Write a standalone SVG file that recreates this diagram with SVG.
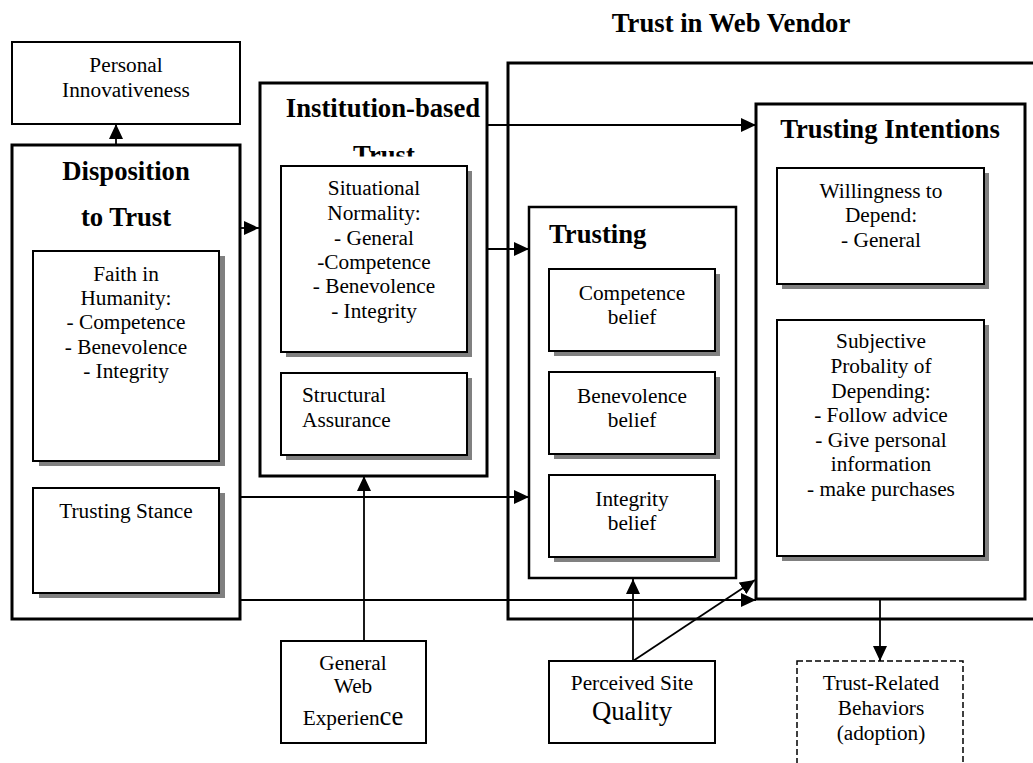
<svg xmlns="http://www.w3.org/2000/svg" width="1033" height="763" viewBox="0 0 1033 763" font-family="'Liberation Serif', 'DejaVu Serif', serif">
  <style>
    text { font-family: 'Liberation Serif', 'DejaVu Serif', serif; fill: #000; }
    .t { font-size: 21.3px; text-anchor: middle; }
    .tl { font-size: 21.3px; }
    .h { font-size: 26.7px; font-weight: bold; text-anchor: middle; }
    .hl { font-size: 26.7px; font-weight: bold; }
    .big { font-size: 26.7px; }
    .box { fill: #fff; stroke: #000; stroke-width: 2; }
    .thick { fill: #fff; stroke: #000; stroke-width: 3; }
    .mid { fill: #fff; stroke: #000; stroke-width: 2.5; }
    .shadow { fill: #808080; }
    .dash { fill: #fff; stroke: #000; stroke-width: 1.5; stroke-dasharray: 6 3; }
    .conn { fill: none; stroke: #000; stroke-width: 1.8; marker-end: url(#arrow); }
  </style>
  <defs>
    <marker id="arrow" markerUnits="userSpaceOnUse" markerWidth="15" markerHeight="14" refX="15" refY="7" orient="auto">
      <path d="M0,0 L15,7 L0,14 z" fill="#000"/>
    </marker>
    <clipPath id="clipTrust">
      <rect x="260" y="83" width="228" height="73.5"/>
    </clipPath>
  </defs>

  <rect width="1033" height="763" fill="#fff"/>

  <!-- Title of the vendor-trust container -->
  <text class="h" x="731" y="32">Trust in Web Vendor</text>

  <!-- Trust in Web Vendor container -->
  <g id="web-vendor">
    <rect class="thick" x="508" y="63" width="540" height="556"/>
  </g>

  <!-- Personal Innovativeness -->
  <g id="personal-innovativeness">
    <rect class="box" x="12" y="42" width="228" height="82"/>
    <text class="t" x="126" y="72">Personal</text>
    <text class="t" x="126" y="97">Innovativeness</text>
  </g>

  <!-- Disposition to Trust -->
  <g id="disposition">
    <rect class="thick" x="12" y="145" width="228" height="474"/>
    <text class="h" x="126" y="180">Disposition</text>
    <text class="h" x="126" y="226">to Trust</text>
  </g>
  <g id="faith-in-humanity">
    <rect class="shadow" x="39" y="256" width="186" height="210"/>
    <rect class="box" x="33" y="251" width="186" height="210"/>
    <text class="t" x="126" y="281">Faith in</text>
    <text class="t" x="126" y="305">Humanity:</text>
    <text class="t" x="126" y="329">- Competence</text>
    <text class="t" x="126" y="354">- Benevolence</text>
    <text class="t" x="126" y="378">- Integrity</text>
  </g>
  <g id="trusting-stance">
    <rect class="shadow" x="39" y="493" width="186" height="105"/>
    <rect class="box" x="33" y="488" width="186" height="105"/>
    <text class="t" x="126" y="518">Trusting Stance</text>
  </g>

  <!-- Institution-based Trust -->
  <g id="institution">
    <rect class="thick" x="260" y="83" width="227" height="393"/>
    <text class="h" x="383" y="117">Institution-based</text>
    <text class="h" x="384" y="164" clip-path="url(#clipTrust)">Trust</text>
  </g>
  <g id="situational-normality">
    <rect class="shadow" x="286" y="171" width="186" height="186"/>
    <rect class="box" x="281" y="166" width="186" height="186"/>
    <text class="t" x="374" y="195">Situational</text>
    <text class="t" x="374" y="220">Normality:</text>
    <text class="t" x="374" y="245">- General</text>
    <text class="t" x="374" y="269">-Competence</text>
    <text class="t" x="374" y="293">- Benevolence</text>
    <text class="t" x="374" y="318">- Integrity</text>
  </g>
  <g id="structural-assurance">
    <rect class="shadow" x="286" y="378" width="186" height="82"/>
    <rect class="box" x="281" y="373" width="186" height="82"/>
    <text class="tl" x="302" y="402">Structural</text>
    <text class="tl" x="302" y="427">Assurance</text>
  </g>

  <!-- Trusting Beliefs -->
  <g id="trusting-beliefs">
    <rect class="mid" x="529" y="207" width="207" height="371"/>
    <text class="hl" x="549" y="243">Trusting</text>
  </g>
  <g id="competence-belief">
    <rect class="shadow" x="554" y="274" width="166" height="82"/>
    <rect class="box" x="549" y="269" width="166" height="82"/>
    <text class="t" x="632" y="300">Competence</text>
    <text class="t" x="632" y="324">belief</text>
  </g>
  <g id="benevolence-belief">
    <rect class="shadow" x="554" y="377" width="166" height="82"/>
    <rect class="box" x="549" y="372" width="166" height="82"/>
    <text class="t" x="632" y="403">Benevolence</text>
    <text class="t" x="632" y="427">belief</text>
  </g>
  <g id="integrity-belief">
    <rect class="shadow" x="554" y="480" width="166" height="82"/>
    <rect class="box" x="549" y="475" width="166" height="82"/>
    <text class="t" x="632" y="506">Integrity</text>
    <text class="t" x="632" y="530">belief</text>
  </g>

  <!-- Trusting Intentions -->
  <g id="trusting-intentions">
    <rect class="thick" x="756" y="104" width="269" height="495"/>
    <text class="h" x="890" y="138">Trusting Intentions</text>
  </g>
  <g id="willingness">
    <rect class="shadow" x="782" y="173" width="207" height="116"/>
    <rect class="box" x="777" y="168" width="207" height="116"/>
    <text class="t" x="881" y="198">Willingness to</text>
    <text class="t" x="881" y="222">Depend:</text>
    <text class="t" x="881" y="247">- General</text>
  </g>
  <g id="subjective-probability">
    <rect class="shadow" x="782" y="325" width="207" height="236"/>
    <rect class="box" x="777" y="320" width="207" height="236"/>
    <text class="t" x="881" y="348">Subjective</text>
    <text class="t" x="881" y="373">Probality of</text>
    <text class="t" x="881" y="398">Depending:</text>
    <text class="t" x="881" y="422">- Follow advice</text>
    <text class="t" x="881" y="447">- Give personal</text>
    <text class="t" x="881" y="471">information</text>
    <text class="t" x="881" y="496">- make purchases</text>
  </g>

  <!-- Antecedents and outcome -->
  <g id="general-web-experience">
    <rect class="box" x="281" y="641" width="145" height="102"/>
    <text class="t" x="353" y="670">General</text>
    <text class="t" x="353" y="693">Web</text>
    <text class="t" x="353" y="725">Experien<tspan class="big">ce</tspan></text>
  </g>
  <g id="perceived-site-quality">
    <rect class="box" x="549" y="661" width="166" height="82"/>
    <text class="t" x="632" y="690">Perceived Site</text>
    <text class="t big" x="632" y="720">Quality</text>
  </g>
  <g id="trust-related-behaviors">
    <rect class="dash" x="797" y="661" width="166" height="115"/>
    <text class="t" x="881" y="690">Trust-Related</text>
    <text class="t" x="881" y="715">Behaviors</text>
    <text class="t" x="881" y="740">(adoption)</text>
  </g>

  <!-- Connectors -->
  <g id="connectors">
    <line class="conn" x1="116" y1="145" x2="116" y2="124"/>
    <line class="conn" x1="240" y1="228" x2="259" y2="228"/>
    <line class="conn" x1="487" y1="125" x2="756" y2="125"/>
    <line class="conn" x1="487" y1="249" x2="529" y2="249"/>
    <line class="conn" x1="240" y1="497" x2="529" y2="497"/>
    <line class="conn" x1="240" y1="600" x2="756" y2="600"/>
    <line class="conn" x1="364" y1="641" x2="364" y2="476"/>
    <line class="conn" x1="633" y1="661" x2="633" y2="579"/>
    <line class="conn" x1="633" y1="661" x2="755" y2="580"/>
    <line class="conn" x1="880" y1="600" x2="880" y2="661"/>
  </g>
</svg>
